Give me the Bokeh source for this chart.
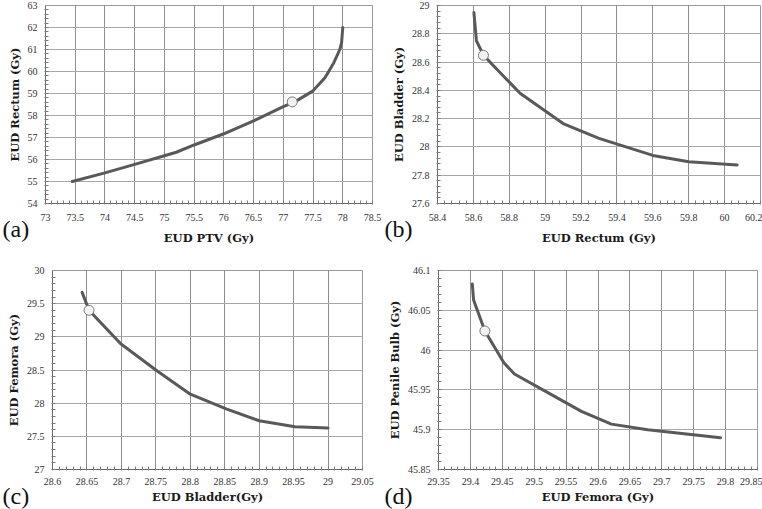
from bokeh.plotting import figure
from bokeh.models import Range1d, FixedTicker, NumeralTickFormatter, Title
from bokeh.layouts import column, row
from bokeh.embed import file_html
from bokeh.resources import INLINE
import numpy as np

# ---------------- data ----------------
# (a) EUD PTV vs EUD Rectum
a_x = [73.45, 74.0, 74.5, 75.0, 75.2, 75.5, 76.0, 76.5, 77.0, 77.2, 77.5, 77.7, 77.85, 77.95, 77.98, 78.0]
a_y = [55.0, 55.39, 55.78, 56.17, 56.33, 56.66, 57.17, 57.76, 58.4, 58.63, 59.12, 59.72, 60.4, 61.0, 61.3, 62.0]
a_mx = [77.15]
a_my = [58.62]
a_xticks = [73, 73.5, 74, 74.5, 75, 75.5, 76, 76.5, 77, 77.5, 78, 78.5]
a_yticks = [54, 55, 56, 57, 58, 59, 60, 61, 62, 63]

# (b) EUD Rectum vs EUD Bladder
b_x = [58.603, 58.617, 58.656, 58.70, 58.86, 59.1, 59.3, 59.6, 59.8, 60.07]
b_y = [28.95, 28.75, 28.65, 28.59, 28.38, 28.165, 28.06, 27.94, 27.895, 27.873]
b_mx = [58.656]
b_my = [28.648]
b_xticks = [58.4, 58.6, 58.8, 59, 59.2, 59.4, 59.6, 59.8, 60, 60.2]
b_yticks = [27.6, 27.8, 28, 28.2, 28.4, 28.6, 28.8, 29]

# (c) EUD Bladder vs EUD Femora
c_x = [28.643, 28.653, 28.699, 28.752, 28.80, 28.853, 28.90, 28.952, 29.0]
c_y = [29.67, 29.40, 28.895, 28.485, 28.135, 27.91, 27.735, 27.645, 27.625]
c_mx = [28.653]
c_my = [29.40]
c_xticks = [28.6, 28.65, 28.7, 28.75, 28.8, 28.85, 28.9, 28.95, 29, 29.05]
c_yticks = [27, 27.5, 28, 28.5, 29, 29.5, 30]

# (d) EUD Femora vs EUD Penile Bulb
d_x = [29.403, 29.405, 29.4227, 29.4525, 29.469, 29.527, 29.574, 29.621, 29.678, 29.792]
d_y = [46.083, 46.063, 46.024, 45.984, 45.970, 45.944, 45.923, 45.907, 45.900, 45.890]
d_mx = [29.4227]
d_my = [46.024]
d_xticks = [29.35, 29.4, 29.45, 29.5, 29.55, 29.6, 29.65, 29.7, 29.75, 29.8, 29.85]
d_yticks = [45.85, 45.9, 45.95, 46, 46.05, 46.1]

panels = [
    dict(x=a_x, y=a_y, mx=a_mx, my=a_my, xt=a_xticks, yt=a_yticks,
         xlabel="EUD PTV (Gy)", ylabel="EUD Rectum (Gy)", tag="(a)"),
    dict(x=b_x, y=b_y, mx=b_mx, my=b_my, xt=b_xticks, yt=b_yticks,
         xlabel="EUD Rectum (Gy)", ylabel="EUD Bladder (Gy)", tag="(b)"),
    dict(x=c_x, y=c_y, mx=c_mx, my=c_my, xt=c_xticks, yt=c_yticks,
         xlabel="EUD Bladder(Gy)", ylabel="EUD Femora (Gy)", tag="(c)"),
    dict(x=d_x, y=d_y, mx=d_mx, my=d_my, xt=d_xticks, yt=d_yticks,
         xlabel="EUD Femora (Gy)", ylabel="EUD Penile Bulb (Gy)", tag="(d)"),
]

# layout: (width, height, left, right, top, bottom, tick standoff, title standoff,
#          tag left px within figure, tag standoff)
geom = [
    (381, 254, 45, 9, 5, 51, 9, 7, 2, -64),
    (381, 254, 56, 2, 4, 51, 9, 7, 3, -64),
    (381, 255, 52, 19, 16, 39, 7, 2, 2, -48),
    (381, 255, 57, 5, 16, 40, 7, 2, 3, -48),
]

SERIF = "DejaVu Serif"
TICKFONT = "Liberation Serif"
LINE = "#595959"


def minor(ticks):
    t = np.array(ticks, dtype=float)
    step = (t[1] - t[0]) / 5.0
    return list(np.arange(t[0], t[-1] + step / 2, step))


figs = []
for P, G in zip(panels, geom):
    w, h, bl, br, bt, bb, tstand, lstand, tagx, tagso = G
    x0, x1 = P["xt"][0], P["xt"][-1]
    y0, y1 = P["yt"][0], P["yt"][-1]
    p = figure(width=w, height=h, output_backend="svg", toolbar_location=None,
               x_range=Range1d(x0, x1), y_range=Range1d(y0, y1),
               min_border_left=bl, min_border_right=br,
               min_border_top=bt, min_border_bottom=bb)
    p.background_fill_color = "white"
    p.border_fill_color = "white"
    p.outline_line_color = "#9a9a9a"
    p.outline_line_width = 1

    p.xaxis.ticker = FixedTicker(ticks=P["xt"], minor_ticks=minor(P["xt"]))
    p.yaxis.ticker = FixedTicker(ticks=P["yt"], minor_ticks=minor(P["yt"]))
    p.xaxis.formatter = NumeralTickFormatter(format="0.[00]")
    p.yaxis.formatter = NumeralTickFormatter(format="0.[00]")

    for ax in (p.xaxis, p.yaxis):
        ax.axis_line_color = "#6a6a6a"
        ax.axis_line_width = 1
        ax.major_tick_in = 0
        ax.major_tick_out = 0
        ax.minor_tick_in = 3
        ax.minor_tick_out = 1
        ax.minor_tick_line_color = "#7a7a7a"
        ax.major_label_text_font = TICKFONT
        ax.major_label_text_font_size = "10px"
        ax.major_label_text_color = "#333333"
        ax.axis_label_text_font = SERIF
        ax.axis_label_text_font_style = "bold"
        ax.axis_label_text_font_size = "11.5px"
        ax.axis_label_text_color = "#1a1a1a"
    p.xaxis.major_label_standoff = tstand
    p.xaxis.axis_label_standoff = lstand
    p.yaxis.major_label_standoff = 7
    p.yaxis.axis_label_standoff = 3
    p.xaxis.axis_label = P["xlabel"]
    p.yaxis.axis_label = P["ylabel"]

    p.xgrid.grid_line_color = "#8f8f8f"
    p.ygrid.grid_line_color = "#a8a8a8"
    p.xgrid.grid_line_width = 1
    p.ygrid.grid_line_width = 1

    p.line(P["x"], P["y"], line_color=LINE, line_width=3, line_join="round", line_cap="round")
    p.scatter(P["mx"], P["my"], size=10, fill_color="#f2f2f2", line_color="#7a7a7a", line_width=1)

    # panel tag as a title below the x axis, pulled up and to the left
    p.add_layout(Title(text=P["tag"], align="left", vertical_align="top",
                       offset=tagx - bl, standoff=tagso,
                       text_font="Liberation Serif", text_font_size="24px",
                       text_font_style="normal", text_color="#111111"), "below")
    figs.append(p)

layout = column(row(figs[0], figs[1]), row(figs[2], figs[3]))

open("out.html", "w").write(file_html(layout, INLINE))
